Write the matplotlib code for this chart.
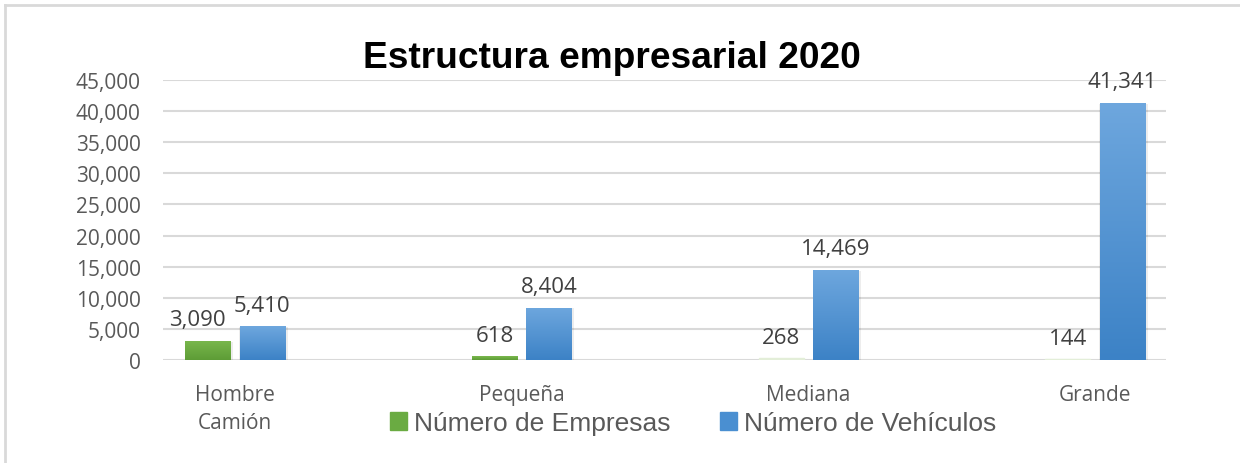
import numpy as np
import matplotlib.pyplot as plt
from matplotlib.lines import Line2D
from matplotlib.colors import LinearSegmentedColormap
from matplotlib.ticker import FuncFormatter

categories = ["Hombre\nCamión", "Pequeña", "Mediana", "Grande"]
empresas = [3090, 618, 268, 144]
vehiculos = [5410, 8404, 14469, 41341]

fig = plt.figure(figsize=(12.4, 4.64), dpi=100)
ax = fig.add_axes([163 / 1240, 1 - 361 / 464, 1003 / 1240, 280 / 464])

# outer chart frame (top and left edges only visible)
fig.add_artist(Line2D([5 / 1240, 1], [1 - 6 / 464, 1 - 6 / 464], color="#d9d9d9", lw=2))
fig.add_artist(Line2D([5 / 1240, 5 / 1240], [0, 1 - 6 / 464], color="#d9d9d9", lw=2))

x = np.arange(len(categories))
w = 0.157
off = 0.095

green_cmap = LinearSegmentedColormap.from_list("g", ["#5d9c36", "#7ab84d"])
blue_cmap = LinearSegmentedColormap.from_list("b", ["#3c82c6", "#6ea7de"])

bars_e = ax.bar(x - off, empresas, w, color="#6aab42", zorder=3)
bars_v = ax.bar(x + off, vehiculos, w, color="#4a8fd1", zorder=3)

# tiny bars are barely visible in the original
for b in bars_e:
    if b.get_height() < 500:
        b.set_color("#e3eed8")

grad = np.linspace(0, 1, 256).reshape(-1, 1)
for bars, cmap in ((bars_e, green_cmap), (bars_v, blue_cmap)):
    for b in bars:
        x0, y0 = b.get_x(), b.get_y()
        bw, bh = b.get_width(), b.get_height()
        if bh < 500:
            continue
        if bh > 1000:
            # soft shadow
            ax.bar(x0 + bw / 2 + 0.004, bh, bw + 0.012, bottom=-120,
                   color="#000000", alpha=0.07, zorder=2)
        im = ax.imshow(grad, cmap=cmap, aspect="auto", origin="lower",
                       extent=(x0, x0 + bw, y0, y0 + bh), zorder=4)
        im.set_clip_path(b)

for i, (xi, v) in enumerate(zip(x, empresas)):
    shift = -0.035 if i == 0 else 0
    ax.text(xi - off + shift, v + 1700, f"{v:,}", ha="center", va="bottom",
            fontsize=16, color="#404040", family="Open Sans")
for xi, v in zip(x, vehiculos):
    ax.text(xi + off, v + 1700, f"{v:,}", ha="center", va="bottom",
            fontsize=16, color="#404040", family="Open Sans")

ax.set_xlim(-0.251, 3.247)
ax.set_ylim(0, 45000)
ax.set_yticks(np.arange(0, 45001, 5000))
ax.yaxis.set_major_formatter(FuncFormatter(lambda v, p: f"{int(v):,}"))
ax.set_xticks(x)
ax.set_xticklabels(categories, linespacing=1.45)
ax.tick_params(axis="both", length=0, labelsize=15, colors="#595959")
ax.tick_params(axis="x", pad=17)
ax.tick_params(axis="y", pad=16)
for lab in ax.get_xticklabels() + ax.get_yticklabels():
    lab.set_family("Open Sans")
ax.grid(axis="y", color="#d9d9d9", lw=1.5, zorder=0)
for s in ax.spines.values():
    s.set_visible(False)

fig.text(612 / 1240, 1 - 58 / 464, "Estructura empresarial 2020", ha="center",
         va="center", fontsize=26.7, fontweight="bold", family="Liberation Sans")

handles = [plt.Rectangle((0, 0), 1, 1, color="#6aab42"),
           plt.Rectangle((0, 0), 1, 1, color="#4a8fd1")]
fig.legend(handles, ["Número de Empresas", "Número de Vehículos"],
           loc="center", bbox_to_anchor=(693 / 1240, 1 - 424 / 464), ncol=2,
           frameon=False, prop={"family": "Liberation Sans", "size": 19},
           labelcolor="#595959", handlelength=0.65, handleheight=0.65,
           handletextpad=0.25, columnspacing=1.9)

fig.savefig("out.png", dpi=100)
